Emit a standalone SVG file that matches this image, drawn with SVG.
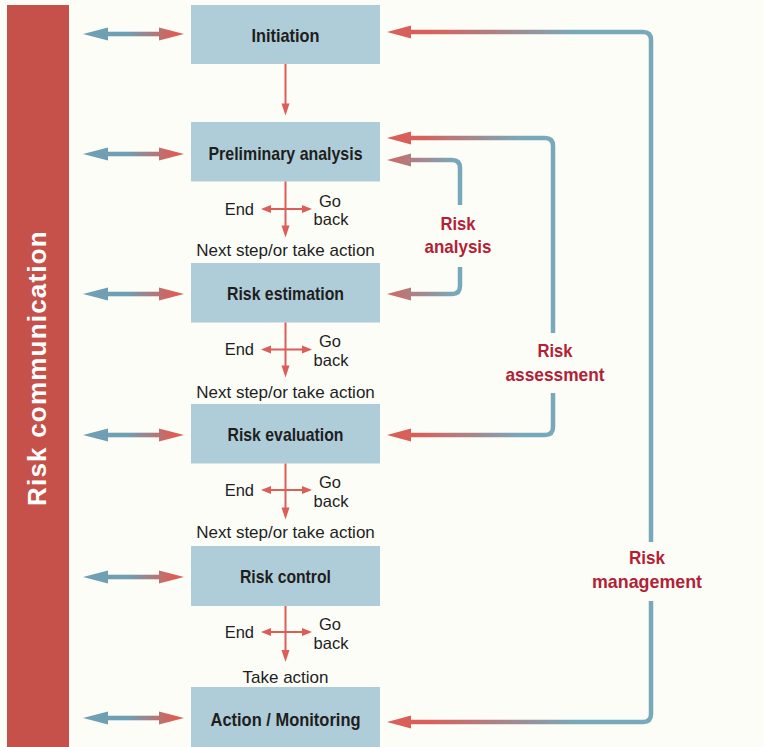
<svg xmlns="http://www.w3.org/2000/svg" width="764" height="747" viewBox="0 0 764 747">
<defs>
<style>
.box{fill:#afcdd8}
.bl{font-family:"Liberation Sans",Arial,sans-serif;font-weight:bold;font-size:19px;fill:#1e1e1e;text-anchor:middle}
.tx{font-family:"Liberation Sans",Arial,sans-serif;font-size:16.5px;fill:#1e1e1e}
.nx{font-family:"Liberation Sans",Arial,sans-serif;font-size:17px;fill:#1e1e1e;text-anchor:middle}
.rl{font-family:"Liberation Sans",Arial,sans-serif;font-weight:bold;font-size:19px;fill:#b21f37;text-anchor:middle}
.red{stroke:#dd5d58;stroke-width:2;fill:none}
.rh{fill:#dd5d58}
.fb{fill:none;stroke-width:4.5;stroke-linecap:butt}
</style>
<linearGradient id="gL" gradientUnits="userSpaceOnUse" x1="128" y1="0" x2="172" y2="0">
<stop offset="0" stop-color="#6e9fb3"/><stop offset="1" stop-color="#d9605a"/>
</linearGradient>
<linearGradient id="gOut" gradientUnits="userSpaceOnUse" x1="430" y1="0" x2="575" y2="0">
<stop offset="0" stop-color="#d9605a"/><stop offset="1" stop-color="#78a9ba"/>
</linearGradient>
<linearGradient id="gAs" gradientUnits="userSpaceOnUse" x1="420" y1="0" x2="520" y2="0">
<stop offset="0" stop-color="#d9605a"/><stop offset="1" stop-color="#78a9ba"/>
</linearGradient>
<linearGradient id="gAn" gradientUnits="userSpaceOnUse" x1="380" y1="0" x2="455" y2="0">
<stop offset="0" stop-color="#d9605a"/><stop offset="1" stop-color="#78a9ba"/>
</linearGradient>
</defs>
<rect x="0" y="0" width="764" height="747" fill="#fdfdf8"/>

<g id="risk-communication">
<rect x="7" y="5" width="62" height="742" fill="#c5514a"/>
<text transform="translate(46,368) rotate(-90)" text-anchor="middle" font-family="'Liberation Sans',Arial,sans-serif" font-weight="bold" font-size="26" letter-spacing="1.2" fill="#ffffff">Risk communication</text>
</g>

<g id="initiation"><rect class="box" x="191" y="5" width="189" height="59"/><text class="bl" x="285.5" y="41.5" textLength="68" lengthAdjust="spacingAndGlyphs">Initiation</text></g>
<g id="preliminary-analysis"><rect class="box" x="191" y="122" width="189" height="59.5"/><text class="bl" x="285.5" y="160" textLength="154" lengthAdjust="spacingAndGlyphs">Preliminary analysis</text></g>
<g id="risk-estimation"><rect class="box" x="191" y="263" width="189" height="59.5"/><text class="bl" x="285.5" y="300" textLength="117" lengthAdjust="spacingAndGlyphs">Risk estimation</text></g>
<g id="risk-evaluation"><rect class="box" x="191" y="404" width="189" height="59.5"/><text class="bl" x="285.5" y="440.5" textLength="116" lengthAdjust="spacingAndGlyphs">Risk evaluation</text></g>
<g id="risk-control"><rect class="box" x="191" y="546" width="189" height="60"/><text class="bl" x="285.5" y="582.5" textLength="91" lengthAdjust="spacingAndGlyphs">Risk control</text></g>
<g id="action-monitoring"><rect class="box" x="191" y="687" width="189" height="60"/><text class="bl" x="285.5" y="725.5" textLength="150" lengthAdjust="spacingAndGlyphs">Action / Monitoring</text></g>

<g id="labels">
<text class="rl" x="458" y="229.5" textLength="35" lengthAdjust="spacingAndGlyphs">Risk</text>
<text class="rl" x="458" y="253" textLength="67" lengthAdjust="spacingAndGlyphs">analysis</text>
<text class="rl" x="555" y="357" textLength="35" lengthAdjust="spacingAndGlyphs">Risk</text>
<text class="rl" x="555" y="381" textLength="99" lengthAdjust="spacingAndGlyphs">assessment</text>
<text class="rl" x="647" y="564" textLength="36" lengthAdjust="spacingAndGlyphs">Risk</text>
<text class="rl" x="647" y="588" textLength="110" lengthAdjust="spacingAndGlyphs">management</text>

<text class="tx" x="254" y="214.5" text-anchor="end">End</text>
<text class="tx" x="330" y="206.5" text-anchor="middle">Go</text>
<text class="tx" x="331" y="224.5" text-anchor="middle">back</text>
<text class="nx" x="285.5" y="256">Next step/or take action</text>

<text class="tx" x="254" y="355" text-anchor="end">End</text>
<text class="tx" x="330" y="347" text-anchor="middle">Go</text>
<text class="tx" x="331" y="365.5" text-anchor="middle">back</text>
<text class="nx" x="285.5" y="397.5">Next step/or take action</text>

<text class="tx" x="254" y="495.5" text-anchor="end">End</text>
<text class="tx" x="330" y="488" text-anchor="middle">Go</text>
<text class="tx" x="331" y="506.5" text-anchor="middle">back</text>
<text class="nx" x="285.5" y="538">Next step/or take action</text>

<text class="tx" x="254" y="637.5" text-anchor="end">End</text>
<text class="tx" x="330" y="630" text-anchor="middle">Go</text>
<text class="tx" x="331" y="648.5" text-anchor="middle">back</text>
<text class="nx" x="285.5" y="683">Take action</text>
</g>

<g id="connectors">
<g fill="url(#gL)">
<rect x="104" y="31.7" width="58" height="4.6"/><polygon points="83,34 108,27.5 108,40.5"/><polygon points="184,34 159,27.5 159,40.5"/>
<rect x="104" y="151.7" width="58" height="4.6"/><polygon points="83,154 108,147.5 108,160.5"/><polygon points="184,154 159,147.5 159,160.5"/>
<rect x="104" y="291.7" width="58" height="4.6"/><polygon points="83,294 108,287.5 108,300.5"/><polygon points="184,294 159,287.5 159,300.5"/>
<rect x="104" y="432.7" width="58" height="4.6"/><polygon points="83,435 108,428.5 108,441.5"/><polygon points="184,435 159,428.5 159,441.5"/>
<rect x="104" y="574.7" width="58" height="4.6"/><polygon points="83,577 108,570.5 108,583.5"/><polygon points="184,577 159,570.5 159,583.5"/>
<rect x="104" y="715.7" width="58" height="4.6"/><polygon points="83,718 108,711.5 108,724.5"/><polygon points="184,718 159,711.5 159,724.5"/>
</g>

<line class="red" x1="285.5" y1="64" x2="285.5" y2="106"/>
<polygon class="rh" points="285.5,115.5 281.5,103.5 289.5,103.5"/>

<g>
<line class="red" x1="285.5" y1="181.5" x2="285.5" y2="228"/><polygon class="rh" points="285.5,237.5 281.5,225.5 289.5,225.5"/>
<line class="red" x1="268" y1="209" x2="304" y2="209"/><polygon class="rh" points="261,209 271,205 271,213"/><polygon class="rh" points="312,209 302,205 302,213"/>

<line class="red" x1="285.5" y1="322.5" x2="285.5" y2="368"/><polygon class="rh" points="285.5,377.5 281.5,365.5 289.5,365.5"/>
<line class="red" x1="268" y1="349.5" x2="304" y2="349.5"/><polygon class="rh" points="261,349.5 271,345.5 271,353.5"/><polygon class="rh" points="312,349.5 302,345.5 302,353.5"/>

<line class="red" x1="285.5" y1="463.5" x2="285.5" y2="510"/><polygon class="rh" points="285.5,519.5 281.5,507.5 289.5,507.5"/>
<line class="red" x1="268" y1="490" x2="304" y2="490"/><polygon class="rh" points="261,490 271,486 271,494"/><polygon class="rh" points="312,490 302,486 302,494"/>

<line class="red" x1="285.5" y1="606" x2="285.5" y2="652"/><polygon class="rh" points="285.5,662 281.5,650 289.5,650"/>
<line class="red" x1="268" y1="632" x2="304" y2="632"/><polygon class="rh" points="261,632 271,628 271,636"/><polygon class="rh" points="312,632 302,628 302,636"/>
</g>

<path class="fb" stroke="url(#gOut)" d="M405,32 H643 Q651,32 651,40 V542"/>
<path class="fb" stroke="url(#gOut)" d="M651,601 V714 Q651,722 643,722 H405"/>
<polygon fill="url(#gOut)" points="387,32 411,25.5 411,38.5"/>
<polygon fill="url(#gOut)" points="387,722 411,715.5 411,728.5"/>

<path class="fb" stroke="url(#gAs)" d="M405,138 H545 Q553,138 553,146 V333"/>
<path class="fb" stroke="url(#gAs)" d="M553,393 V427 Q553,435 545,435 H405"/>
<polygon fill="url(#gAs)" points="387,138 411,131.5 411,144.5"/>
<polygon fill="url(#gAs)" points="387,435 411,428.5 411,441.5"/>

<path class="fb" stroke="url(#gAn)" d="M405,160 H452 Q460,160 460,168 V205"/>
<path class="fb" stroke="url(#gAn)" d="M460,267 V286 Q460,294 452,294 H405"/>
<polygon fill="url(#gAn)" points="387,160 411,153.5 411,166.5"/>
<polygon fill="url(#gAn)" points="387,294 411,287.5 411,300.5"/>
</g>
</svg>
